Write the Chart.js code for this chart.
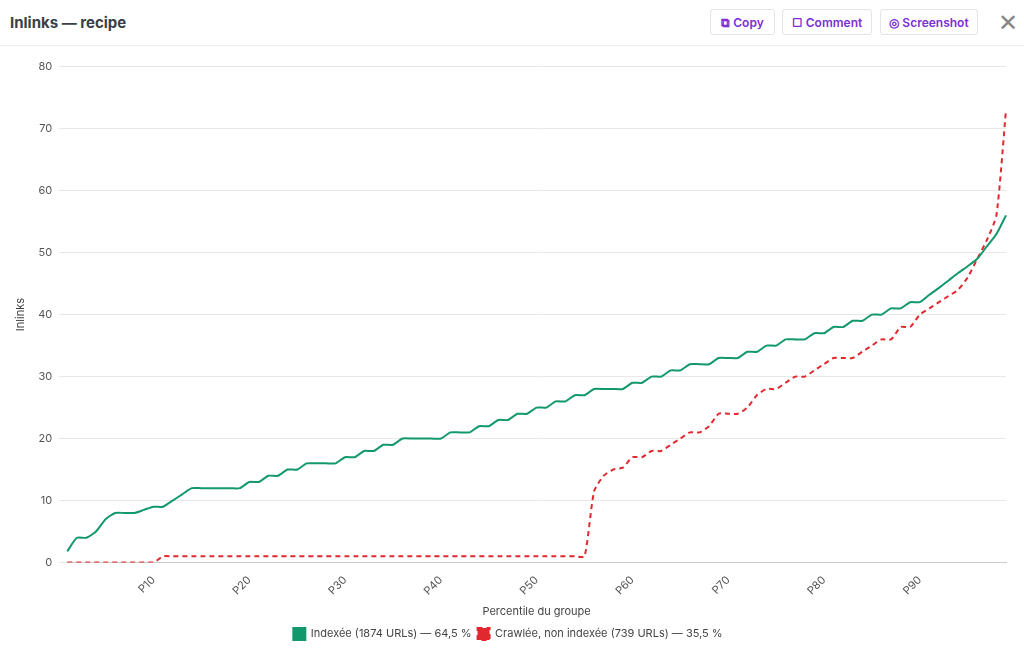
<!DOCTYPE html>
<html><head><meta charset="utf-8">
<script src="https://cdn.jsdelivr.net/npm/chart.js@4"></script>
<style>
body{margin:0;font-family:Inter,sans-serif;background:#fff;width:1024px;height:650px;overflow:hidden}
.hdr{height:45px;border-bottom:1px solid #eceef3;position:relative}
.t{position:absolute;left:10px;top:13px;font-size:15px;font-weight:700;color:#3a3f47}
.b{position:absolute;top:9px;height:26px;border:1px solid #e3e3ea;border-radius:3px;color:#7b2fd6;font-size:12px;font-weight:600;line-height:26px;text-align:center;box-sizing:border-box}
.x{position:absolute;left:998px;top:8px;font-size:24px;color:#888;font-weight:300}
#w{position:absolute;left:0;top:53px;width:1024px;height:597px}
</style></head><body>
<div class="hdr"><div class="t">Inlinks — recipe</div>
<div class="b" style="left:710px;width:65px">⧉ Copy</div>
<div class="b" style="left:782px;width:90px">▢ Comment</div>
<div class="b" style="left:880px;width:98px">◎ Screenshot</div>
<div class="x">✕</div></div>
<div id="w"><canvas id="c"></canvas></div>
<script>
const labels=[];for(let i=1;i<=99;i++)labels.push('P'+i);
const indexee=[1.8,4,4,5,7,8,8,8,8.5,9,9,10,11,12,12,12,12,12,12,13,13,14,14,15,15,16,16,16,16,17,17,18,18,19,19,20,20,20,20,20,21,21,21,22,22,23,23,24,24,25,25,26,26,27,27,28,28,28,28,29,29,30,30,31,31,32,32,32,33,33,33,34,34,35,35,36,36,36,37,37,38,38,39,39,40,40,41,41,42,42,43.2,44.3,45.5,46.7,47.8,49,51,53,56];
const crawlee=[0,0,0,0,0,0,0,0,0,0,1,1,1,1,1,1,1,1,1,1,1,1,1,1,1,1,1,1,1,1,1,1,1,1,1,1,1,1,1,1,1,1,1,1,1,1,1,1,1,1,1,1,1,1,1,11.5,14,15,15.3,17,17,18,18,19,20,21,21,22,24,24,24,25,27,28,28,29,30,30,31,32,33,33,33,34,35,36,36,38,38,40,41,42,43,44,46,49,52,56,73];
new Chart(document.getElementById('c'),{type:'line',
data:{labels,datasets:[
{label:'Indexée (1874 URLs) — 64,5 %',data:indexee,borderColor:'#12996b',backgroundColor:'#12996b',borderWidth:2,pointRadius:0,tension:0.2},
{label:'Crawlée, non indexée (739 URLs) — 35,5 %',data:crawlee,borderColor:'#e0282e',backgroundColor:'#e0282e',borderWidth:2,borderDash:[5,4],pointRadius:0,tension:0.2}]},
options:{responsive:true,maintainAspectRatio:false,animation:false,
layout:{padding:{left:10,right:18,top:8,bottom:0}},
plugins:{legend:{position:'bottom',labels:{padding:6,boxWidth:12,boxHeight:12,color:'#444',font:{family:'Inter',size:11}}},tooltip:{enabled:false}},
scales:{x:{grid:{display:false},border:{color:'#ccc'},title:{display:true,text:'Percentile du groupe',color:'#444',font:{family:'Inter',size:11}},
ticks:{autoSkip:false,maxRotation:45,minRotation:45,color:'#555',font:{family:'Inter',size:11},callback:(v,i)=>((i+1)%10===0?labels[i]:'')}},
y:{min:0,max:80,ticks:{stepSize:10,padding:7,color:'#555',font:{family:'Inter',size:11}},grid:{color:'#e8e8e8'},border:{display:false},title:{display:true,text:'Inlinks',color:'#444',font:{family:'Inter',size:11}}}}}});
</script></body></html>
